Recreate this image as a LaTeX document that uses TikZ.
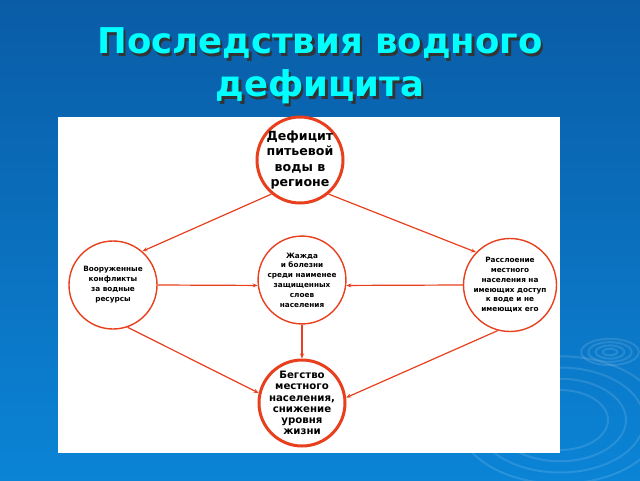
\documentclass[tikz,border=0pt]{standalone}
\usepackage{fontspec}
\setmainfont{DejaVu Sans}
\usetikzlibrary{positioning,arrows.meta}

\definecolor{slidetop}{HTML}{0A5CA6}
\definecolor{slidebottom}{HTML}{0B84D6}
\definecolor{ringred}{HTML}{E8401E}
\definecolor{titlecyan}{HTML}{00FFFF}

\tikzset{
  effect/.style={circle, draw=ringred, line width=1.4pt, align=center, inner sep=0pt, font=\bfseries},
  cause/.style={effect, line width=3pt, inner sep=-7pt},
  link/.style={draw=ringred, line width=1.2pt, -{Stealth[length=5pt,width=4pt]}},
  ripple/.style={draw=white, opacity=0.12, line width=2pt}
}

\begin{document}
\begin{tikzpicture}[x=1pt, y=-1pt]
  % Slide background
  \shade[top color=slidetop, bottom color=slidebottom] (0,0) rectangle (640,480);
  \useasboundingbox (0,0) rectangle (640,480);

  % Ripples
  \foreach \r in {6,12,18,24}
    \draw[ripple] (610,352) ellipse ({\r*1.2} and {\r*0.55});
  \foreach \r in {40,55,70,85}
    \draw[ripple] (560,420) ellipse ({\r*1.2} and {\r*0.75});

  % Title
  \node[text=black!80, font=\bfseries\fontsize{35.5}{43}\selectfont, align=center] at (322.5,68.5) {Последствия водного\\дефицита};
  \node[text=titlecyan, font=\bfseries\fontsize{35.5}{43}\selectfont, align=center] (title) at (320,66) {Последствия водного\\дефицита};

  % White panel
  \fill[white] (58,117) rectangle (560,453);

  % Circles
  \node[cause, minimum size=86pt, font=\bfseries\fontsize{12.6}{15.5}\selectfont] (shortage) at (300,160) {Дефицит\\питьевой\\воды в\\регионе};
  \node[effect, minimum size=88pt, font=\bfseries\fontsize{7.3}{10}\selectfont] (conflicts) at (113,285) {Вооруженные\\конфликты\\за водные\\ресурсы};
  \node[effect, minimum size=87pt, font=\bfseries\fontsize{7.3}{9.8}\selectfont] (disease) at (302,280) {Жажда\\и болезни\\среди наименее\\защищенных\\слоев\\населения};
  \node[effect, minimum size=93pt, font=\bfseries\fontsize{7.3}{9.8}\selectfont] (divide) at (510,285) {Расслоение\\местного\\населения на\\имеющих доступ\\к воде и не\\имеющих его};
  \node[cause, minimum size=86pt, font=\bfseries\fontsize{10.2}{11.2}\selectfont] (flight) at (302,403) {Бегство\\местного\\населения,\\снижение\\уровня\\жизни};

  % Links
  \draw[link] (shortage.230) -- (conflicts.49);
  \draw[link] (shortage.310) -- (divide.136);
  \draw[link] (conflicts.east) -- (disease.187);
  \draw[link] (divide.west) -- (disease.353);
  \draw[link] (disease) -- (flight);
  \draw[link] (conflicts.289) -- (flight.167);
  \draw[link] (divide.255) -- (flight.7);
\end{tikzpicture}
\end{document}
